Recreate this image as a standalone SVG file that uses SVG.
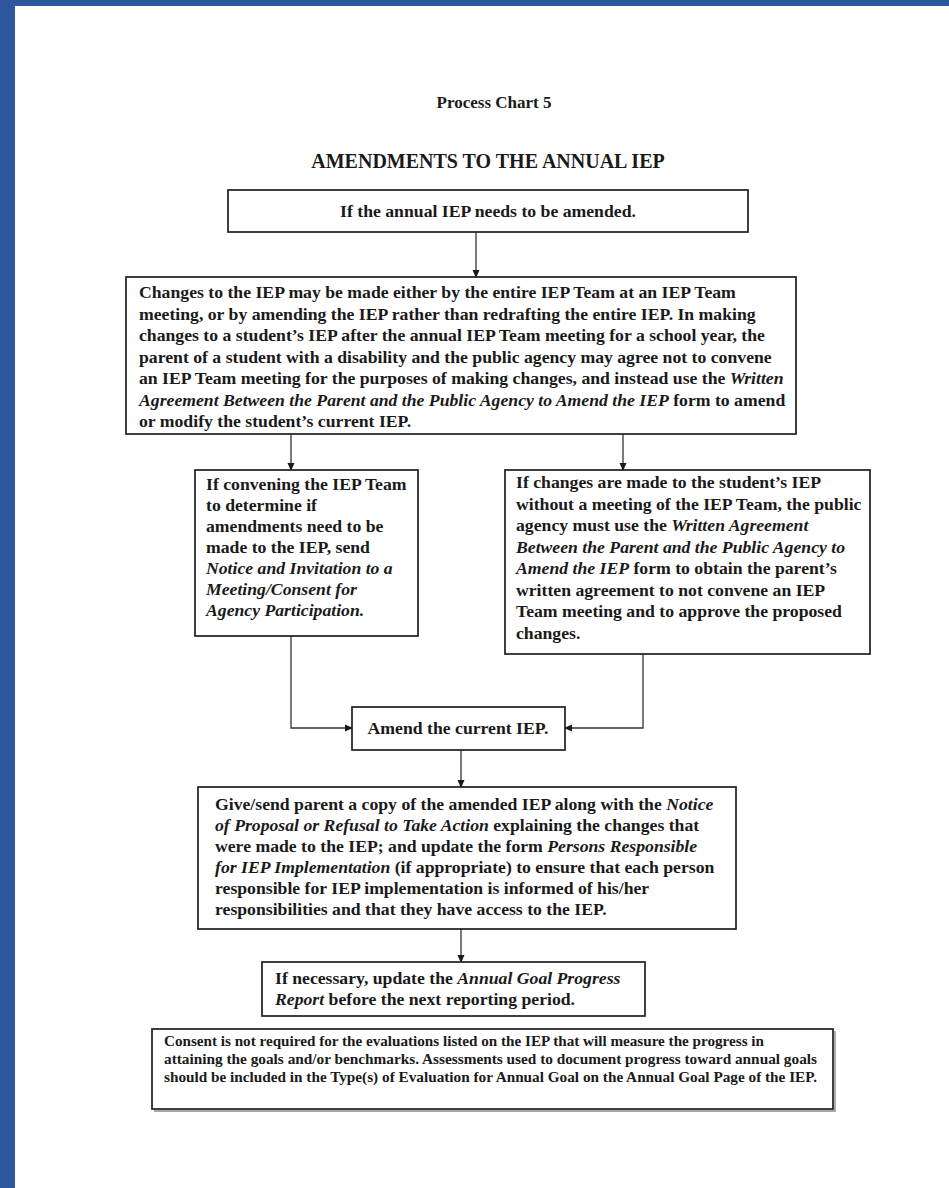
<svg xmlns="http://www.w3.org/2000/svg" width="949" height="1188" viewBox="0 0 949 1188">
<style>
.t{font-family:"Liberation Serif","Times New Roman",serif;font-weight:bold;font-size:17.7px;fill:#1a1a1a}
.s{font-family:"Liberation Serif","Times New Roman",serif;font-weight:bold;font-size:14.5px;fill:#1a1a1a}
.i{font-style:italic}
.box{fill:#fff;stroke:#1e1e1e;stroke-width:1.7}
.sh{fill:none;stroke:#8a8a8a;stroke-width:1.4}
.ln{fill:none;stroke:#333;stroke-width:1.3}
</style>
<defs>
<marker id="ah" markerWidth="8" markerHeight="8" refX="7" refY="4" orient="auto" markerUnits="userSpaceOnUse">
<path d="M0,0.5 L8,4 L0,7.5 Z" fill="#1a1a1a"/>
</marker>
</defs>
<rect x="0" y="0" width="949" height="1188" fill="#fff"/>
<rect x="0" y="0" width="15" height="1188" fill="#2e589e"/>
<rect x="0" y="0" width="949" height="6" fill="#2e589e"/>

<g id="title">
<text x="494" y="108" text-anchor="middle" class="t" style="font-size:17px">Process Chart 5</text>
<text x="488" y="168" text-anchor="middle" class="t" style="font-size:20px">AMENDMENTS TO THE ANNUAL IEP</text>
</g>

<g id="connectors">
<line class="ln" x1="476" y1="232" x2="476" y2="277" marker-end="url(#ah)"/>
<line class="ln" x1="291" y1="434" x2="291" y2="470" marker-end="url(#ah)"/>
<line class="ln" x1="623" y1="434" x2="623" y2="470" marker-end="url(#ah)"/>
<polyline class="ln" points="291,636 291,728 352,728" marker-end="url(#ah)"/>
<polyline class="ln" points="643,654 643,728 565,728" marker-end="url(#ah)"/>
<line class="ln" x1="461" y1="750" x2="461" y2="787" marker-end="url(#ah)"/>
<line class="ln" x1="461" y1="929" x2="461" y2="962" marker-end="url(#ah)"/>
</g>

<g id="n1">
<rect class="box" x="228" y="190" width="520" height="42"/>
<text class="t" x="488" y="217" text-anchor="middle">If the annual IEP needs to be amended.</text>
</g>

<g id="n2">
<rect class="box" x="126" y="277" width="670" height="157"/>
<text class="t" x="139" y="298">Changes to the IEP may be made either by the entire IEP Team at an IEP Team</text>
<text class="t" x="139" y="319.5">meeting, or by amending the IEP rather than redrafting the entire IEP.  In making</text>
<text class="t" x="139" y="341">changes to a student’s IEP after the annual IEP Team meeting for a school year, the</text>
<text class="t" x="139" y="362.5">parent of a student with a disability and the public agency may agree not to convene</text>
<text class="t" x="139" y="384">an IEP Team meeting for the purposes of making changes, and instead use the <tspan class="i">Written</tspan></text>
<text class="t" x="139" y="405.5"><tspan class="i">Agreement Between the Parent and the Public Agency to Amend the IEP</tspan> form to amend</text>
<text class="t" x="139" y="427">or modify the student’s current IEP.</text>
</g>

<g id="n3">
<rect class="box" x="195" y="470" width="223" height="166"/>
<text class="t" x="206" y="490">If convening the IEP Team</text>
<text class="t" x="206" y="511">to determine if</text>
<text class="t" x="206" y="532">amendments need to be</text>
<text class="t" x="206" y="553">made to the IEP, send</text>
<text class="t i" x="206" y="574">Notice and Invitation to a</text>
<text class="t i" x="206" y="595">Meeting/Consent for</text>
<text class="t i" x="206" y="616">Agency Participation.</text>
</g>

<g id="n4">
<rect class="box" x="505" y="470" width="365" height="184"/>
<text class="t" x="516" y="488">If changes are made to the student’s IEP</text>
<text class="t" x="516" y="509.5">without a meeting of the IEP Team, the public</text>
<text class="t" x="516" y="531">agency must use the <tspan class="i">Written Agreement</tspan></text>
<text class="t i" x="516" y="552.5">Between the Parent and the Public Agency to</text>
<text class="t" x="516" y="574"><tspan class="i">Amend the IEP</tspan> form to obtain the parent’s</text>
<text class="t" x="516" y="595.5">written agreement to not convene an IEP</text>
<text class="t" x="516" y="617">Team meeting and to approve the proposed</text>
<text class="t" x="516" y="638.5">changes.</text>
</g>

<g id="n5">
<rect class="box" x="352" y="707" width="213" height="43"/>
<text class="t" x="458" y="734" text-anchor="middle">Amend the current IEP.</text>
</g>

<g id="n6">
<rect class="box" x="198" y="787" width="538" height="142"/>
<text class="t" x="215" y="810">Give/send parent a copy of the amended IEP along with the <tspan class="i">Notice</tspan></text>
<text class="t" x="215" y="831"><tspan class="i">of Proposal or Refusal to Take Action</tspan> explaining the changes that</text>
<text class="t" x="215" y="852">were made to the IEP; and update the form <tspan class="i">Persons Responsible</tspan></text>
<text class="t" x="215" y="873"><tspan class="i">for IEP Implementation</tspan> (if appropriate) to ensure that each person</text>
<text class="t" x="215" y="894">responsible for IEP implementation is informed of his/her</text>
<text class="t" x="215" y="915">responsibilities and that they have access to the IEP.</text>
</g>

<g id="n7">
<rect class="box" x="262" y="962" width="383" height="54"/>
<text class="t" x="275" y="984">If necessary, update the <tspan class="i">Annual Goal Progress</tspan></text>
<text class="t" x="275" y="1005"><tspan class="i">Report</tspan> before the next reporting period.</text>
</g>

<g id="n8">
<polyline class="sh" points="154,1111 835,1111 835,1031"/>
<rect class="box" x="152" y="1029" width="681" height="80"/>
<text class="s" x="164" y="1046" textLength="600" lengthAdjust="spacingAndGlyphs">Consent is not required for the evaluations listed on the IEP that will measure the progress in</text>
<text class="s" x="164" y="1064" textLength="653" lengthAdjust="spacingAndGlyphs">attaining the goals and/or benchmarks.  Assessments used to document progress toward annual goals</text>
<text class="s" x="164" y="1082" textLength="653" lengthAdjust="spacingAndGlyphs">should be included in the Type(s) of Evaluation for Annual Goal on the Annual Goal Page of the IEP.</text>
</g>
</svg>
